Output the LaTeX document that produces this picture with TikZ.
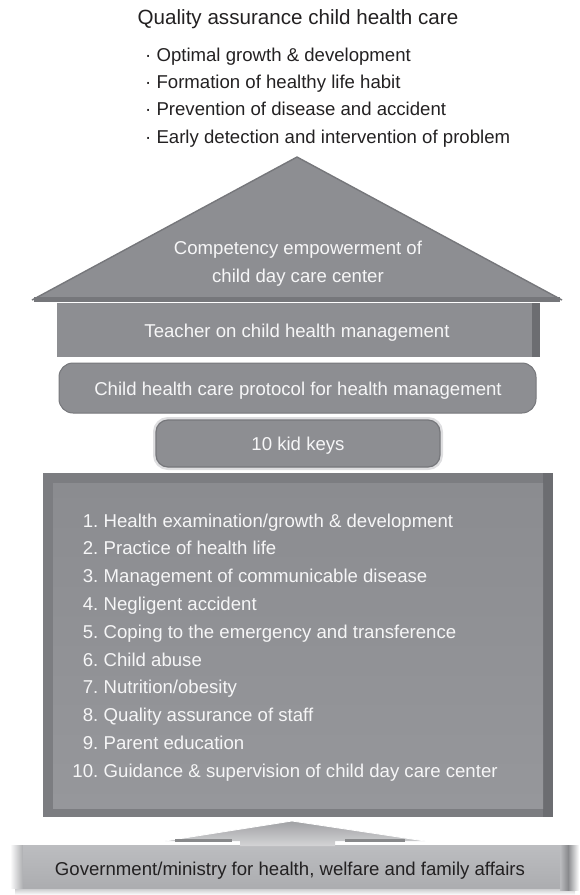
\documentclass[tikz,border=0pt]{standalone}
\usepackage{fontspec}
\setmainfont{Liberation Sans}
\definecolor{ink}{RGB}{35,33,34}
\definecolor{paleink}{RGB}{246,246,247}
\definecolor{boxgray}{RGB}{141,142,146}
\definecolor{edgegray}{RGB}{118,119,123}
\definecolor{banddark}{RGB}{108,109,113}
\definecolor{framegray}{RGB}{124,125,129}
\definecolor{innertop}{RGB}{139,140,144}
\definecolor{innerbot}{RGB}{150,151,155}
\definecolor{govtop}{RGB}{188,189,192}
\definecolor{govbot}{RGB}{172,173,176}
\definecolor{arrowtop}{RGB}{160,161,164}
\definecolor{arrowbot}{RGB}{212,212,214}
\definecolor{halo}{RGB}{222,222,224}
\begin{document}
\begin{tikzpicture}[x=1pt,y=-1pt,
  lbl/.style={inner sep=0pt, anchor=base, font=\fontsize{18.6}{20}\selectfont},
  darklbl/.style={lbl, text=ink},
  whitelbl/.style={lbl, text=paleink},
  tier/.style={fill=boxgray, inner sep=0pt},
  listnum/.style={whitelbl, anchor=base east},
  listitem/.style={whitelbl, anchor=base west},
  bullet/.style={darklbl, anchor=base west}]
\useasboundingbox (0,0) rectangle (580,895);

% goals at the top
\node[darklbl, font=\fontsize{20.6}{22}\selectfont] (goal) at (298,24) {Quality assurance child health care};
\node[bullet] (g1) at (145,61)  {· Optimal growth \& development};
\node[bullet] (g2) at (145,88)  {· Formation of healthy life habit};
\node[bullet] (g3) at (145,115.5) {· Prevention of disease and accident};
\node[bullet] (g4) at (145,143) {· Early detection and intervention of problem};

% roof
\coordinate (apex) at (297,157);
\fill[boxgray] (32,300) -- (apex) -- (562,300) -- cycle;
\draw[edgegray, line width=1.4pt, line join=round] (32,300) -- (apex) -- (562,300);
\draw[edgegray, line width=4.5pt] (34,299.5) -- (560,299.5);
\node[whitelbl] (roof1) at (298,254) {Competency empowerment of};
\node[whitelbl] (roof2) at (298,282) {child day care center};

% teacher tier
\node[tier, minimum width=483pt, minimum height=54pt] (teacher) at (298.5,330) {};
\fill[banddark] (532,303) rectangle (540,357);
\node[whitelbl] (teacherlbl) at (297,337) {Teacher on child health management};

% protocol tier
\node[tier, draw=edgegray, line width=1pt, rounded corners=14pt,
      minimum width=477pt, minimum height=50pt] (protocol) at (297.5,388) {};
\node[whitelbl] (protocollbl) at (298,395) {Child health care protocol for health management};

% key tier
\node[tier, draw=edgegray, line width=1.2pt, rounded corners=12pt,
      preaction={draw=halo, line width=6pt},
      minimum width=284pt, minimum height=47pt] (keys) at (298,443.5) {};
\node[whitelbl] (keyslbl) at (298,450) {10 kid keys};

% foundation with the ten keys
\node[fill=framegray, inner sep=0pt, minimum width=510pt, minimum height=344pt] (frame) at (298,645) {};
\fill[banddark] (543,473) rectangle (553,817);
\shade[top color=innertop, bottom color=innerbot] (53,483) rectangle (543,808);
\foreach \t [count=\i] in {
  {Health examination/growth \& development},
  {Practice of health life},
  {Management of communicable disease},
  {Negligent accident},
  {Coping to the emergency and transference},
  {Child abuse},
  {Nutrition/obesity},
  {Quality assurance of staff},
  {Parent education},
  {Guidance \& supervision of child day care center}}{
  \node[listnum]  (num\i)  at (98.5,{527+27.8*(\i-1)}) {\i.};
  \node[listitem] (item\i) at (103.5,{527+27.8*(\i-1)}) {\t};
}

% government base
\shade[top color=govbot!70!white, bottom color=white] (15,888) rectangle (575,895);
\shade[left color=white, right color=govbot] (10,845) rectangle (23,888);
\shade[left color=govtop, right color=banddark!80!white] (560,845) rectangle (568,890);
\shade[left color=banddark!80!white, right color=white] (568,845) rectangle (579,890);
\node[inner sep=0pt, top color=govtop, bottom color=govbot,
      minimum width=537pt, minimum height=43pt] (gov) at (291.5,866.5) {};
\draw[white, line width=1.2pt] (gov.north west) -- (gov.north east);
\node[darklbl] (govlbl) at (290,875) {Government/ministry for health, welfare and family affairs};

% support arrow rising from the base
\shade[top color=arrowtop, bottom color=arrowbot]
  (240,846) -- (240,841) -- (165,841) -- (292,821) -- (425,841) -- (335,841) -- (335,846) -- cycle;
\draw[white, line width=0.8pt] (165,841) -- (292,821) -- (425,841);
\fill[arrowtop!85!black] (175,838.5) rectangle (232,841.5);
\fill[arrowtop!85!black] (345,838.5) rectangle (405,841.5);
\end{tikzpicture}
\end{document}
